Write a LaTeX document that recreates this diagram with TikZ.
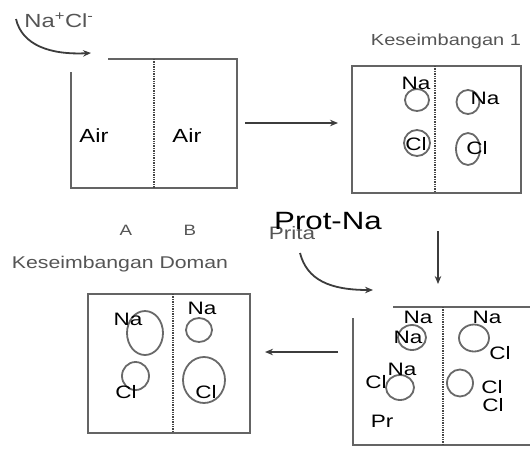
\documentclass[tikz,border=0pt]{standalone}
\usepackage{fontspec}
\setmainfont{Liberation Sans}[FakeStretch=1.25]
\usetikzlibrary{arrows.meta}
\definecolor{boxc}{RGB}{100,100,100}
\definecolor{ionc}{RGB}{105,105,105}
\definecolor{labc}{RGB}{85,85,85}
\definecolor{arrc}{RGB}{60,60,60}
\definecolor{divc}{RGB}{70,70,70}
\begin{document}
\begin{tikzpicture}[x=1pt,y=-1pt,
  wall/.style={draw=boxc,line width=2.2pt},
  divider/.style={draw=divc,line width=1.3pt,dash pattern=on 1.3pt off 1.1pt},
  ion/.style={draw=ionc,line width=1.8pt},
  lab/.style={inner sep=0pt,font=\fontsize{18}{18}\selectfont,text=black},
  air/.style={inner sep=0pt,font=\fontsize{19}{19}\selectfont,text=black},
  title/.style={inner sep=0pt,anchor=base,text=labc},
  flow/.style={draw=arrc,line width=1.8pt,-{Stealth[length=8pt,width=6.5pt]}}]
\useasboundingbox (0,0) rectangle (530,448);

% ---------- box 1 ----------
\draw[wall] (108,59) -- (237,59) -- (237,188) -- (71,188) -- (71,72);
\draw[divider] (154,59) -- (154,188);
\node[air] (air1) at (94,136) {Air};
\node[air] (air2) at (187,136) {Air};
\node[title,text=labc,font=\fontsize{19}{19}\selectfont] (nacl) at (59,27) {Na\textsuperscript{+}Cl\textsuperscript{-}};
\coordinate (nacl-s) at (16,19);
\coordinate (nacl-e) at (91,53);
\draw[flow] (nacl-s) .. controls (22,45) and (50,55) .. (nacl-e);

% ---------- box 2 ----------
\draw[wall] (352,66) rectangle (521,193);
\draw[divider] (435,66) -- (435,193);
\node[title,font=\fontsize{16}{16}\selectfont] (k1) at (446,45) {Keseimbangan 1};
\draw[ion] (417,100) ellipse [x radius=12, y radius=11];
\draw[ion] (468,102) ellipse [x radius=11.5, y radius=12];
\draw[ion] (417,143) ellipse [x radius=13, y radius=13];
\draw[ion] (468,149) ellipse [x radius=12, y radius=16];
\node[lab] (b2na1) at (416,83) {Na};
\node[lab] (b2na2) at (485,98) {Na};
\node[lab] (b2cl1) at (416,144) {Cl};
\node[lab] (b2cl2) at (477,148) {Cl};

\coordinate (a1s) at (245,123);
\coordinate (a1e) at (338,123);
\draw[flow] (a1s) -- (a1e);

% ---------- box 3 ----------
\draw[wall] (88,294) rectangle (250,433);
\draw[divider] (173,294) -- (173,433);
\node[title,font=\fontsize{15}{15}\selectfont] (la) at (126,235) {A};
\node[title,font=\fontsize{15}{15}\selectfont] (lb) at (190,235) {B};
\node[title,font=\fontsize{17}{17}\selectfont] (kd) at (120,268) {Keseimbangan Doman};
\draw[ion] (145,333) ellipse [x radius=18, y radius=22];
\draw[ion] (135.5,376) ellipse [x radius=13.5, y radius=14];
\draw[ion] (199,330) ellipse [x radius=13, y radius=12];
\draw[ion] (204,380) ellipse [x radius=21, y radius=23];
\node[lab] (b3na1) at (128,319) {Na};
\node[lab] (b3cl1) at (126,392) {Cl};
\node[lab] (b3na2) at (202,308) {Na};
\node[lab] (b3cl2) at (206,392) {Cl};

% ---------- box 4 ----------
\draw[wall] (393,307) -- (530,307);
\draw[wall] (353,318) -- (353,445) -- (530,445);
\draw[divider] (443,307) -- (443,445);
\node[inner sep=0pt,font=\fontsize{18}{18}\selectfont,text=labc] (prita) at (292,233) {Prita};
\node[inner sep=0pt,font=\fontsize{25}{25}\selectfont,text=black] (protna) at (328,221) {Prot-Na};
\draw[ion] (412,337.5) ellipse [x radius=14, y radius=12.5];
\draw[ion] (474,338) ellipse [x radius=15, y radius=13.5];
\draw[ion] (400,387.5) ellipse [x radius=14, y radius=12.5];
\draw[ion] (460,383) ellipse [x radius=13, y radius=13.5];
\node[lab] (b4na1) at (418,317) {Na};
\node[lab] (b4na2) at (408,337) {Na};
\node[lab] (b4na3) at (487,317) {Na};
\node[lab] (b4cl1) at (500,353) {Cl};
\node[lab] (b4na4) at (402,369) {Na};
\node[lab] (b4cl2) at (376,382) {Cl};
\node[lab] (b4cl3) at (492,387) {Cl};
\node[lab] (b4cl4) at (493,405) {Cl};
\node[lab] (b4pr) at (382,421) {Pr};

\coordinate (pr-s) at (300,253);
\coordinate (pr-e) at (373,290);
\draw[flow] (pr-s) .. controls (307,280) and (330,290) .. (pr-e);

\coordinate (a2s) at (438,231);
\coordinate (a2e) at (438,284);
\draw[flow] (a2s) -- (a2e);

\coordinate (a3s) at (338,352);
\coordinate (a3e) at (265,352);
\draw[flow] (a3s) -- (a3e);
\end{tikzpicture}
\end{document}
